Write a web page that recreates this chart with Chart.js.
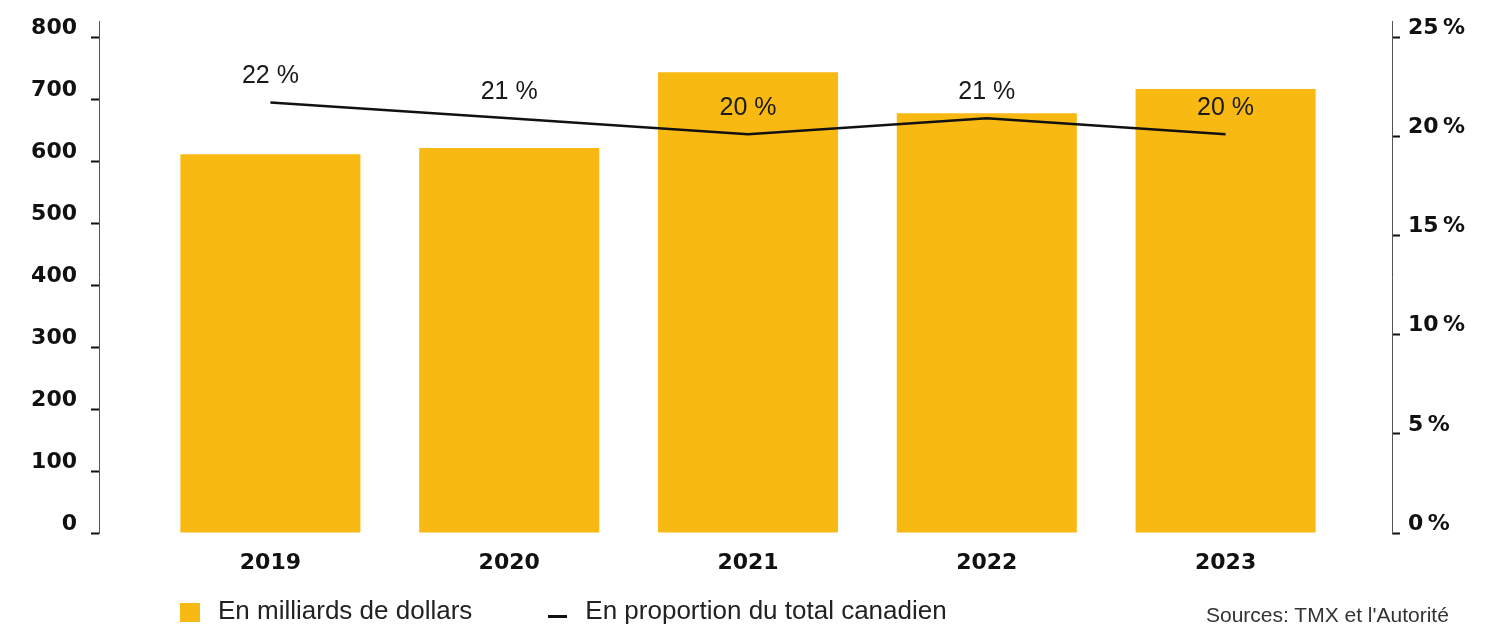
<!DOCTYPE html>
<html lang="fr">
<head>
<meta charset="utf-8">
<title>Capitalisation</title>
<script src="https://cdn.jsdelivr.net/npm/chart.js@4.4.1/dist/chart.umd.min.js"></script>
<style>
  html, body { margin: 0; padding: 0; background: #fff; }
  #wrap { position: relative; width: 1495px; height: 625px; overflow: hidden; }
  #legend {
    position: absolute; left: 180px; top: 595px;
    display: flex; font: 26px "Liberation Sans", Arial, sans-serif; color: #222;
  }
  #legend .item { display: flex; align-items: center; height: 30px; line-height: 30px; margin-right: 76px; }
  #legend .box { width: 20px; height: 19px; margin-right: 18px; position: relative; top: 2px; }
  #legend .dash { width: 19px; height: 3px; margin-right: 18px; position: relative; top: 6px; }
  #source {
    position: absolute; left: 1206px; top: 603px;
    font: 21px "Liberation Sans", Arial, sans-serif; line-height: 24px; color: #333; white-space: nowrap;
  }
</style>
</head>
<body>
<div id="wrap">
  <canvas id="chart" width="1495" height="625"></canvas>
  <div id="legend"></div>
  <div id="source">Sources: TMX et l'Autorité</div>
</div>
<script>
// ===============================
// Données
// ===============================
const YEARS = ["2019", "2020", "2021", "2022", "2023"];
const VALUE_BN = [611, 621, 743, 677, 716];          // en milliards de dollars
const SHARE_PCT = [21.7, 20.9, 20.1, 20.9, 20.1];     // % du total canadien
const SHARE_LABELS = ["22 %", "21 %", "20 %", "21 %", "20 %"];
const SERIES_NAMES = ["En milliards de dollars", "En proportion du total canadien"];

const LEFT_MAX = 800, LEFT_STEP = 100;
const RIGHT_MAX = 25, RIGHT_STEP = 5;

// ===============================
// Style
// ===============================
const COLORS = {
  bar: "#f9b913",
  line: "#111111",
  axis: "#555555",
  text: "#111111"
};
const TICK_FONT = { family: "DejaVu Sans", size: 22, weight: "bold" };
const LEFT_GAP = 52;    // distance axe gauche -> zone des barres
const RIGHT_GAP = 47;   // distance zone des barres -> axe droit
const TICK_LEN = 8;

/* -----------------------------------------------------
   Lignes des axes verticaux (décalées de la zone du graphe)
----------------------------------------------------- */
const axisLines = {
  id: "axisLines",
  afterDraw(chart) {
    const { ctx, chartArea } = chart;
    ctx.save();
    ctx.strokeStyle = COLORS.axis;
    ctx.lineWidth = 1;
    [chartArea.left - LEFT_GAP + 0.5, chartArea.right + RIGHT_GAP + 0.5].forEach((x) => {
      ctx.beginPath();
      ctx.moveTo(x, chartArea.top - 16);
      ctx.lineTo(x, chartArea.bottom + 1);
      ctx.stroke();
    });
    ctx.restore();
  }
};

/* -----------------------------------------------------
   Étiquettes de pourcentage au-dessus de la ligne
----------------------------------------------------- */
const shareLabels = {
  id: "shareLabels",
  afterDatasetsDraw(chart) {
    const { ctx } = chart;
    const meta = chart.getDatasetMeta(1);
    ctx.save();
    ctx.font = "25px 'Liberation Sans', Arial, sans-serif";
    ctx.fillStyle = "#1a1a1a";
    ctx.textAlign = "center";
    ctx.textBaseline = "middle";
    meta.data.forEach((pt, i) => {
      ctx.fillText(SHARE_LABELS[i], pt.x, pt.y - 26);
    });
    ctx.restore();
  }
};

/* -----------------------------------------------------
   Graphique
----------------------------------------------------- */
const chart = new Chart(document.getElementById("chart"), {
  type: "bar",
  data: {
    labels: YEARS,
    datasets: [
      {
        label: SERIES_NAMES[0],
        data: VALUE_BN,
        backgroundColor: COLORS.bar,
        borderWidth: 0,
        barPercentage: 0.754,
        categoryPercentage: 1,
        yAxisID: "y",
        order: 1
      },
      {
        type: "line",
        label: SERIES_NAMES[1],
        data: SHARE_PCT,
        borderColor: COLORS.line,
        backgroundColor: COLORS.line,
        borderWidth: 2.5,
        pointRadius: 0,
        tension: 0,
        yAxisID: "y2",
        order: 0
      }
    ]
  },
  options: {
    responsive: false,
    animation: false,
    layout: { padding: { top: 37, bottom: 0, left: 0, right: 0 } },
    plugins: {
      legend: { display: false },
      tooltip: { enabled: false }
    },
    scales: {
      x: {
        grid: { display: false, drawTicks: false },
        border: { display: false },
        ticks: { color: COLORS.text, font: TICK_FONT, padding: 17, maxRotation: 0 },
        afterFit: (s) => { s.height = 92; }
      },
      y: {
        position: "left",
        min: 0,
        max: LEFT_MAX,
        border: { display: false },
        grid: {
          drawOnChartArea: false,
          tickLength: LEFT_GAP + TICK_LEN,
          tickColor: COLORS.text,
          tickWidth: 2,
          tickBorderDash: [TICK_LEN, 400]
        },
        ticks: {
          stepSize: LEFT_STEP,
          color: COLORS.text,
          font: TICK_FONT,
          padding: 14,
          labelOffset: -9
        },
        afterFit: (s) => { s.width = 151; }
      },
      y2: {
        position: "right",
        min: 0,
        max: RIGHT_MAX,
        border: { display: false },
        grid: {
          drawOnChartArea: false,
          tickLength: RIGHT_GAP + TICK_LEN,
          tickColor: COLORS.text,
          tickWidth: 2,
          tickBorderDash: [0, RIGHT_GAP, TICK_LEN, 400]
        },
        ticks: {
          stepSize: RIGHT_STEP,
          color: COLORS.text,
          font: TICK_FONT,
          padding: 8,
          labelOffset: -9,
          callback: (v) => v + "\u202f%"
        },
        afterFit: (s) => { s.width = 150; }
      }
    }
  },
  plugins: [axisLines, shareLabels]
});

/* -----------------------------------------------------
   Légende HTML
----------------------------------------------------- */
function buildLegend(ch) {
  const el = document.getElementById("legend");
  el.innerHTML = ch.data.datasets
    .map((ds) => {
      const mark = ds.type === "line"
        ? `<span class="dash" style="background:${ds.borderColor}"></span>`
        : `<span class="box" style="background:${ds.backgroundColor}"></span>`;
      return `<div class="item">${mark}<span>${ds.label}</span></div>`;
    })
    .join("");
}
buildLegend(chart);
</script>
</body>
</html>
